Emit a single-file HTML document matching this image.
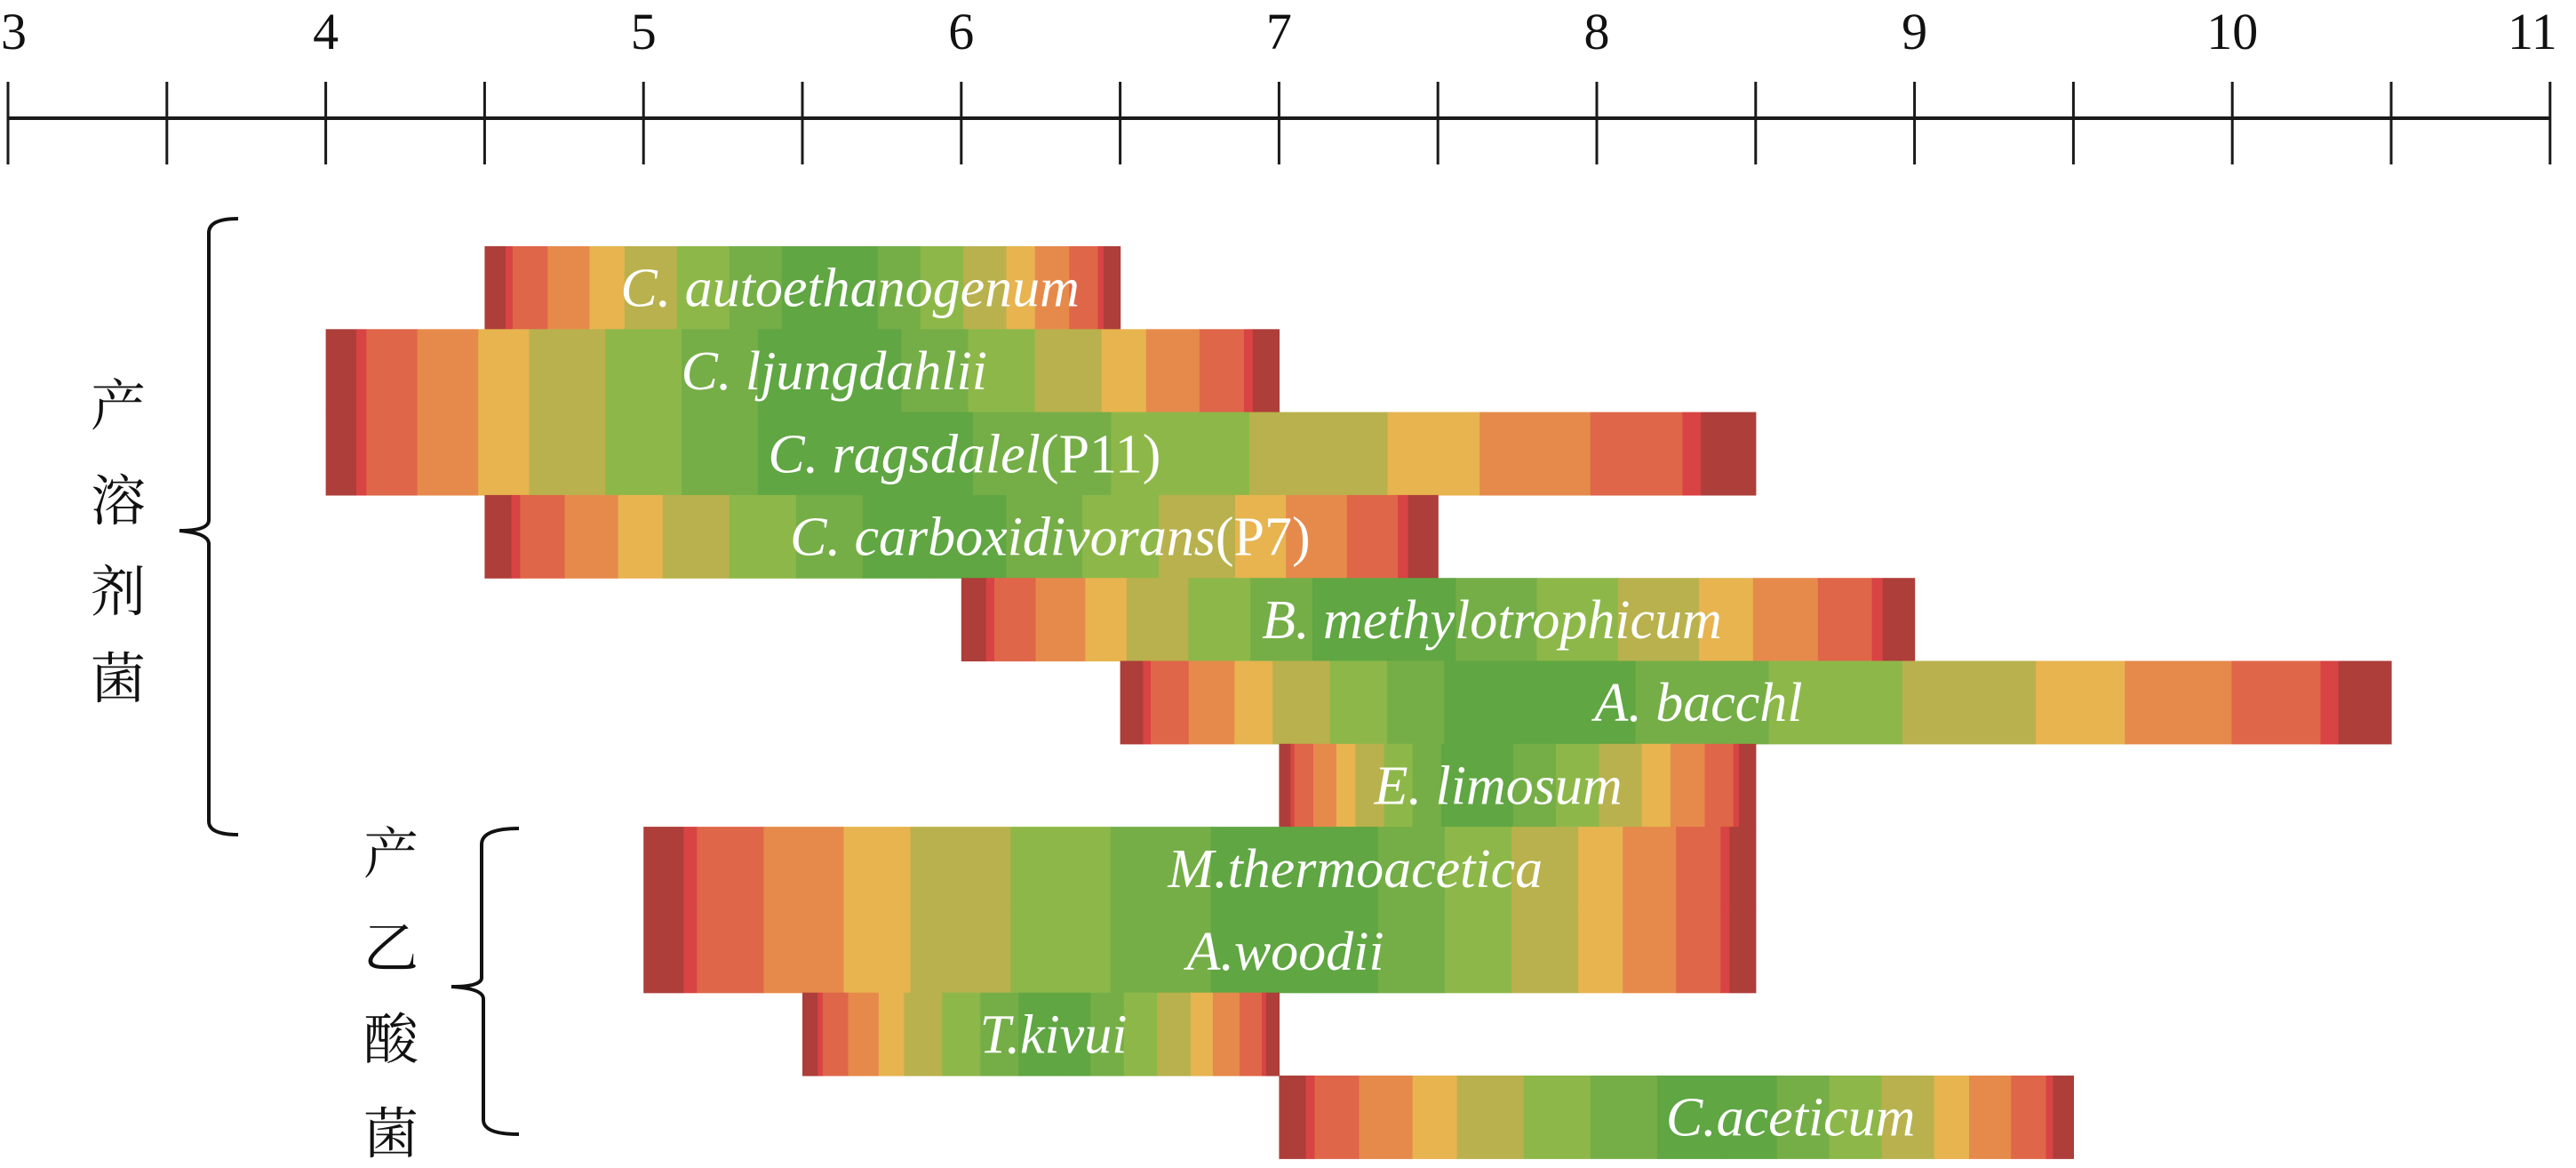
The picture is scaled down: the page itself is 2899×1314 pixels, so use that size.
<!DOCTYPE html>
<html><head><meta charset="utf-8"><style>
html,body{margin:0;padding:0;background:#fff;}
svg{display:block;}
</style></head><body>
<svg id="chart" width="2899" height="1314" viewBox="0 0 2899 1314" xmlns="http://www.w3.org/2000/svg">
<g id="axis"></g>
<g id="bars"></g>
<g id="labels"></g>
<g fill="none" stroke="#111" stroke-width="4">
<path d="M268,246 Q235,246 235,262 L235,585 Q235,597 202,597 Q235,600 235,612 L235,924 Q235,939 268,939"/>
</g>
<g fill="none" stroke="#111" stroke-width="4">
<path d="M584,932 Q542,932 542,950 L542,1100 Q542,1110 508,1110 Q544,1112 544,1124 L544,1260 Q544,1276 584,1276"/>
</g>
<g font-family="'Liberation Serif','Noto Serif CJK SC','Noto Sans CJK SC',serif" font-size="62" fill="#111" text-anchor="middle">
<text x="133"><tspan x="133" y="478">产</tspan><tspan x="133" y="585">溶</tspan><tspan x="133" y="687">剂</tspan><tspan x="133" y="785">菌</tspan></text>
<text x="440"><tspan x="440" y="982">产</tspan><tspan x="440" y="1088">乙</tspan><tspan x="440" y="1191">酸</tspan><tspan x="440" y="1297">菌</tspan></text>
</g>
</svg>
<script>
const names = ["C. autoethanogenum","C. ljungdahlii","C. ragsdalel","C. carboxidivorans","B. methylotrophicum","A. bacchl","E. limosum","M.thermoacetica","A.woodii","T.kivui","C.aceticum"];
const suffixes = ["","","(P11)","(P7)","","","","","","",""];
const phMin = [4.5,4.0,4.0,4.5,6.0,6.5,7.0,5.0,5.0,5.5,7.0];
const phOpt = [5.6,5.6,5.6,5.9,7.3,7.7,7.6,7.1,7.1,6.3,8.4];
const phMax = [6.5,7.0,8.5,7.5,9.0,10.5,8.5,8.5,8.5,7.0,9.5];
const labelAt = [5.65,5.60,6.01,6.28,7.67,8.32,7.69,7.24,7.02,6.29,8.61];
const ticks = [3,4,5,6,7,8,9,10,11];

const X0=9, UNIT=357.6, ROW0=277, ROWH=93.3;
const x = v => X0 + (v-3)*UNIT;
const y = i => ROW0 + i*ROWH;
const NS="http://www.w3.org/2000/svg";
const colors=["#ad3e39","#d84343","#df6649","#e68a4b","#e7b44f","#b9b14d","#8db849","#75ae47","#60a643"];
const fr=[0,0.06,0.08,0.18,0.3,0.4,0.55,0.7,0.85];
function mk(tag,attrs,parent){const e=document.createElementNS(NS,tag);for(const k in attrs)e.setAttribute(k,attrs[k]);parent.appendChild(e);return e;}

const axis=document.getElementById('axis');
const ln=mk('line',{x1:x(3),x2:x(11),y1:133,y2:133,stroke:'#1a1a1a','stroke-width':4},axis);


for(let v=3;v<=11.001;v+=0.5){
  const t=mk('line',{x1:x(v),x2:x(v),y1:92,y2:185,stroke:'#1a1a1a','stroke-width':3},axis);
  
  
}
ticks.forEach((v,i)=>{
  const anchor = i===0?'start':(i===ticks.length-1?'end':'middle');
  const tx=mk('text',{x:i===0?x(v)-8:(i===ticks.length-1?x(v)+8:x(v)),y:55,'font-family':"'Liberation Serif',serif",'font-size':58,'text-anchor':anchor,fill:'#111'},axis);
  tx.textContent=v;
  
  
});

const bars=document.getElementById('bars'), labels=document.getElementById('labels');
names.forEach((n,i)=>{
  const g=mk('g',{},bars);
  
  
  const a=phMin[i], o=phOpt[i], b=phMax[i];
  for(let k=0;k<colors.length;k++){
    const s=a+(o-a)*fr[k], e=(k+1<colors.length)?a+(o-a)*fr[k+1]:o;
    mk('rect',{x:x(s),y:y(i),width:x(e)-x(s)+0.6,height:ROWH+0.6,fill:colors[k]},g);
  }
  for(let k=0;k<colors.length;k++){
    const e=b-(b-o)*fr[k], s=(k+1<colors.length)?b-(b-o)*fr[k+1]:o;
    mk('rect',{x:x(s),y:y(i),width:x(e)-x(s)+0.6,height:ROWH+0.6,fill:colors[k]},g);
  }
  const t=mk('text',{x:x(labelAt[i]),y:y(i)+ROWH/2+21,'font-family':"'Liberation Serif',serif",'font-size':62,fill:'#fff','text-anchor':'middle'},labels);
  
  
  const it=mk('tspan',{'font-style':'italic'},t); it.textContent=n;
  if(suffixes[i]){const s=mk('tspan',{},t); s.textContent=suffixes[i];}
});
</script>
</body></html>
